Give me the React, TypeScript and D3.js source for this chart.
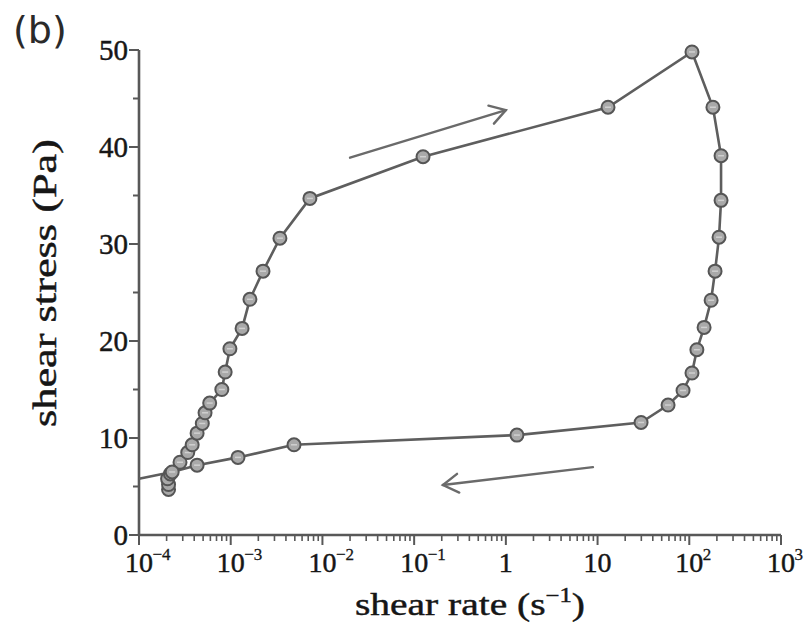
import React from "react";
import * as d3 from "d3";

// Forward (increasing stress) branch
const upShear = [2.1e-4, 2.1e-4, 2.05e-4, 2.2e-4, 2.8e-4, 3.4e-4, 3.8e-4, 4.3e-4, 4.9e-4, 5.25e-4, 5.9e-4, 8.0e-4, 8.7e-4, 9.8e-4, 1.33e-3, 1.62e-3, 2.25e-3, 3.44e-3, 7.3e-3, 0.125, 13, 107];
const upStress = [4.7, 5.2, 5.8, 6.3, 7.5, 8.5, 9.3, 10.5, 11.5, 12.6, 13.6, 15.0, 16.8, 19.2, 21.3, 24.3, 27.2, 30.6, 34.7, 39.0, 44.1, 49.8];
// Backward (decreasing stress) branch
const downShear = [181, 222, 222, 211, 191, 173, 145, 121, 107, 85.5, 58.7, 29.8, 1.32, 4.9e-3, 1.2e-3, 4.3e-4, 2.3e-4];
const downStress = [44.1, 39.1, 34.5, 30.7, 27.2, 24.2, 21.4, 19.1, 16.7, 14.9, 13.4, 11.6, 10.3, 9.3, 8.0, 7.2, 6.5];
// line continues to the axis
const tailShear = [1e-4];
const tailStress = [5.8];

const xTickExps = [-4, -3, -2, -1, 0, 1, 2, 3];
const xTickLabels = ["10", "10", "10", "10", "1", "10", "10", "10"];
const xTickSups = ["−4", "−3", "−2", "−1", "", "", "2", "3"];
const yTicks = [0, 10, 20, 30, 40, 50];
const yMinorTicks = [5, 15, 25, 35, 45];

// arrows [x1, y1, x2, y2] in data units
const arrowUp = [0.02, 38.9, 1.0, 43.8];
const arrowDown = [8.9, 7.0, 0.206, 5.15];

const W = 806;
const H = 636;
const serif = "'Liberation Serif', 'DejaVu Serif', serif";

export default function App() {
  const x = d3.scaleLog().domain([1e-4, 1e3]).range([139, 781]);
  const y = d3.scaleLinear().domain([0, 50]).range([535, 50]);

  const pts: [number, number][] = [];
  upShear.forEach((s, i) => pts.push([s, upStress[i]]));
  downShear.forEach((s, i) => pts.push([s, downStress[i]]));
  tailShear.forEach((s, i) => pts.push([s, tailStress[i]]));
  const markers: [number, number][] = pts.slice(0, upShear.length + downShear.length);

  const line = d3
    .line<[number, number]>()
    .x((d) => x(d[0]))
    .y((d) => y(d[1]));

  const minorX: number[] = [];
  for (let e = -4; e < 3; e++) {
    for (let m = 2; m <= 9; m++) minorX.push(m * Math.pow(10, e));
  }

  const axisColor = "#585858";
  const textColor = "#161616";
  const thick = { stroke: textColor, strokeWidth: 0.45 };

  const arrow = (a: number[], key: string) => {
    const x1 = x(a[0]), y1 = y(a[1]), x2 = x(a[2]), y2 = y(a[3]);
    const ang = Math.atan2(y2 - y1, x2 - x1);
    const L = 18, sp = 0.55;
    const hx1 = x2 - L * Math.cos(ang - sp), hy1 = y2 - L * Math.sin(ang - sp);
    const hx2 = x2 - L * Math.cos(ang + sp), hy2 = y2 - L * Math.sin(ang + sp);
    return (
      <g key={key} stroke="#6a6a6a" strokeWidth={2.4} fill="none" strokeLinecap="round">
        <line x1={x1} y1={y1} x2={x2} y2={y2} />
        <polyline points={`${hx1},${hy1} ${x2},${y2} ${hx2},${hy2}`} />
      </g>
    );
  };

  return (
    <svg width={W} height={H} style={{ position: "absolute", left: 0, top: 0, background: "#fff" }}>
      {/* (b) */}
      <text x={13} y={43} fontFamily="'DejaVu Sans', sans-serif" fontSize={38} fill="#2a2a2a">
        (b)
      </text>

      {/* axes */}
      <line x1={x(1e-4)} y1={y(0)} x2={x(1e-4)} y2={y(50)} stroke={axisColor} strokeWidth={2.6} />
      <line x1={x(1e-4)} y1={y(0)} x2={x(1e3)} y2={y(0)} stroke={axisColor} strokeWidth={2.6} />

      {/* y ticks */}
      {yTicks.map((t) => (
        <g key={"yt" + t}>
          <line x1={x(1e-4) - 10} x2={x(1e-4)} y1={y(t)} y2={y(t)} stroke={axisColor} strokeWidth={2} />
          <text x={x(1e-4) - 11} y={y(t)} dy="0.36em" textAnchor="end" fontFamily={serif} fontSize={29} fill={textColor} {...thick}>
            {t}
          </text>
        </g>
      ))}
      {yMinorTicks.map((t) => (
        <line key={"ym" + t} x1={x(1e-4) - 6} x2={x(1e-4)} y1={y(t)} y2={y(t)} stroke={axisColor} strokeWidth={2} />
      ))}

      {/* x ticks */}
      {xTickExps.map((e, i) => {
        const px = x(Math.pow(10, e));
        const baseW = xTickLabels[i].length * 13.5;
        return (
          <g key={"xt" + e}>
            <line x1={px} x2={px} y1={y(0)} y2={y(0) + 10} stroke={axisColor} strokeWidth={2} />
            <text x={px} y={y(0) + 37} textAnchor="middle" fontFamily={serif} fontSize={28} fill={textColor} {...thick}>
              {xTickLabels[i]}
            </text>
            {xTickSups[i] && (
              <text x={px + baseW / 2} y={y(0) + 25} textAnchor="start" fontFamily={serif} fontSize={17} fill={textColor} stroke={textColor} strokeWidth={0.3}>
                {xTickSups[i]}
              </text>
            )}
          </g>
        );
      })}
      {minorX.map((v, i) => (
        <line key={"xm" + i} x1={x(v)} x2={x(v)} y1={y(0)} y2={y(0) + 6} stroke={axisColor} strokeWidth={1.6} />
      ))}

      {/* axis titles */}
      <text x={470} y={615} textAnchor="middle" fontFamily={serif} fontSize={32} fill={textColor} {...thick} textLength={230} lengthAdjust="spacingAndGlyphs">
        shear rate (s
        <tspan dy={-13} fontSize={20}>−1</tspan>
        <tspan dy={13}>)</tspan>
      </text>
      <text
        transform="translate(56,283) rotate(-90)"
        textAnchor="middle"
        fontFamily={serif}
        fontSize={33}
        fill={textColor}
        {...thick}
        textLength={288}
        lengthAdjust="spacingAndGlyphs"
      >
        shear stress (Pa)
      </text>

      {/* data line */}
      <path d={line(pts) || ""} fill="none" stroke="#5e5e5e" strokeWidth={2.6} />

      {/* markers */}
      {markers.map((d, i) => (
        <g key={"m" + i}>
          <circle cx={x(d[0])} cy={y(d[1])} r={6.5} fill="#a9a9a9" stroke="#555" strokeWidth={2} />
          <line x1={x(d[0]) - 3} x2={x(d[0]) + 3} y1={y(d[1])} y2={y(d[1])} stroke="#d0d0d0" strokeWidth={1.5} />
        </g>
      ))}

      {/* arrows */}
      {arrow(arrowUp, "au")}
      {arrow(arrowDown, "ad")}
    </svg>
  );
}
